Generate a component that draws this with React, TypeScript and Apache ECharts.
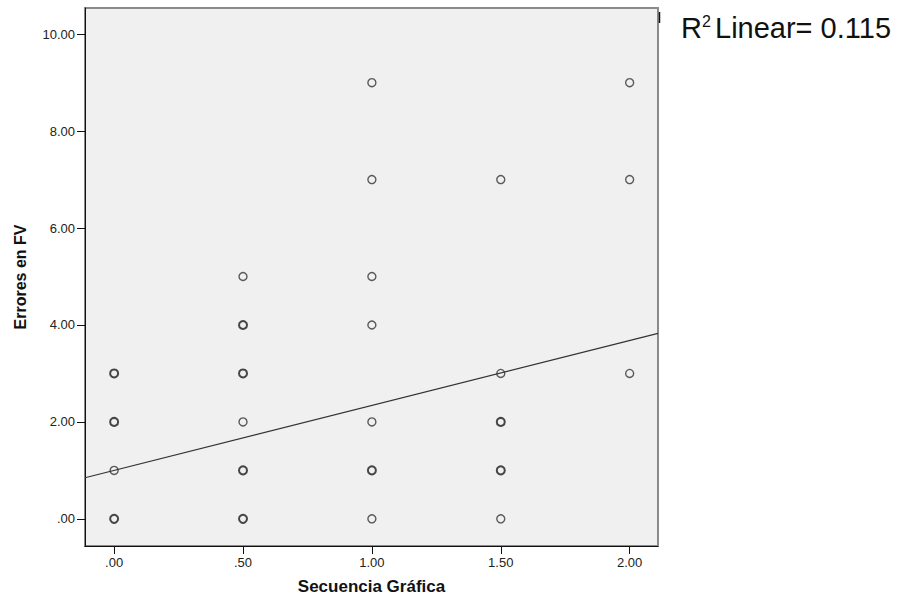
import React, { useEffect, useRef } from "react";
import * as echarts from "echarts";

const xTickValues = [0, 0.5, 1, 1.5, 2];
const xTickLabels = [".00", ".50", "1.00", "1.50", "2.00"];
const yTickValues = [0, 2, 4, 6, 8, 10];
const yTickLabels = [".00", "2.00", "4.00", "6.00", "8.00", "10.00"];

// points where several cases overlap (drawn with a heavier ring)
const overlappingPoints: [number, number][] = [
  [0, 0], [0, 2], [0, 3],
  [0.5, 0], [0.5, 1], [0.5, 3], [0.5, 4],
  [1, 1],
  [1.5, 1], [1.5, 2],
];
// points holding a single case
const singlePoints: [number, number][] = [
  [0, 1],
  [0.5, 2], [0.5, 5],
  [1, 0], [1, 2], [1, 4], [1, 5], [1, 7], [1, 9],
  [1.5, 0], [1.5, 3], [1.5, 7],
  [2, 3], [2, 7], [2, 9],
];

const fitIntercept = 1.0;
const fitSlope = 1.34;
const rSquaredText = "Linear= 0.115";

const xMin = -0.113;
const xMax = 2.11;
const yMin = -0.56;
const yMax = 10.54;

const fitLine: [number, number][] = [
  [xMin, fitIntercept + fitSlope * xMin],
  [xMax, fitIntercept + fitSlope * xMax],
];

const FONT = "'Liberation Sans', Arial, Helvetica, sans-serif";

export default function App() {
  const ref = useRef<HTMLDivElement>(null);
  useEffect(() => {
    if (!ref.current) return;
    const chart = echarts.init(ref.current, null, { renderer: "svg" });
    chart.setOption({
      animation: false,
      backgroundColor: "#ffffff",
      grid: {
        left: 85,
        top: 8,
        right: 245,
        bottom: 56,
        containLabel: false,
        outerBoundsMode: "none",
        show: true,
        backgroundColor: "#f0f0f0",
        borderColor: "#8a8a8a",
        borderWidth: 2,
      },
      xAxis: {
        type: "value",
        min: xMin,
        max: xMax,
        name: "Secuencia Gráfica",
        nameLocation: "middle",
        nameGap: 32,
        nameTextStyle: { fontFamily: FONT, fontWeight: "bold", fontSize: 17, color: "#111" },
        axisLine: { show: true, onZero: false, lineStyle: { color: "#111", width: 1 } },
        axisTick: { show: true, length: 8, customValues: xTickValues, lineStyle: { color: "#111" } },
        axisLabel: {
          customValues: xTickValues,
          margin: 10,
          fontFamily: FONT,
          fontSize: 13,
          color: "#222",
          formatter: (v: number) => {
            const i = xTickValues.findIndex((t) => Math.abs(t - v) < 1e-9);
            return i >= 0 ? xTickLabels[i] : "";
          },
        },
        splitLine: { show: false },
      },
      yAxis: {
        type: "value",
        min: yMin,
        max: yMax,
        name: "Errores en FV",
        nameLocation: "middle",
        nameGap: 57,
        nameRotate: 90,
        nameTextStyle: { fontFamily: FONT, fontWeight: "bold", fontSize: 16, color: "#111" },
        axisLine: { show: true, onZero: false, lineStyle: { color: "#111", width: 1 } },
        axisTick: { show: true, length: 8, customValues: yTickValues, lineStyle: { color: "#111" } },
        axisLabel: {
          customValues: yTickValues,
          margin: 10,
          fontFamily: FONT,
          fontSize: 13,
          color: "#222",
          formatter: (v: number) => {
            const i = yTickValues.findIndex((t) => Math.abs(t - v) < 1e-9);
            return i >= 0 ? yTickLabels[i] : "";
          },
        },
        splitLine: { show: false },
      },
      series: [
        {
          type: "line",
          data: fitLine,
          symbol: "none",
          silent: true,
          lineStyle: { color: "#333", width: 1.2 },
          z: 3,
        },
        {
          type: "scatter",
          data: singlePoints,
          symbol: "circle",
          symbolSize: 8,
          itemStyle: { color: "rgba(240,240,240,0)", borderColor: "#333", borderWidth: 1.4 },
          z: 4,
        },
        {
          type: "scatter",
          data: overlappingPoints,
          symbol: "circle",
          symbolSize: 8,
          itemStyle: { color: "rgba(240,240,240,0)", borderColor: "#1a1a1a", borderWidth: 2 },
          z: 4,
        },
      ],
      graphic: [
        {
          type: "text",
          left: 681,
          top: 13,
          style: { text: "R", font: `29px ${FONT}`, fill: "#111" },
        },
        {
          type: "text",
          left: 702,
          top: 13,
          style: { text: "2", font: `16px ${FONT}`, fill: "#111" },
        },
        {
          type: "text",
          left: 715,
          top: 13,
          style: { text: rSquaredText, font: `29px ${FONT}`, fill: "#111" },
        },
        {
          type: "line",
          shape: { x1: 659.5, y1: 12, x2: 659.5, y2: 23 },
          style: { stroke: "#111", lineWidth: 1.5 },
        },
      ],
    });
    return () => chart.dispose();
  }, []);
  return <div ref={ref} style={{ width: 903, height: 602, position: "fixed", left: 0, top: 0 }} />;
}
